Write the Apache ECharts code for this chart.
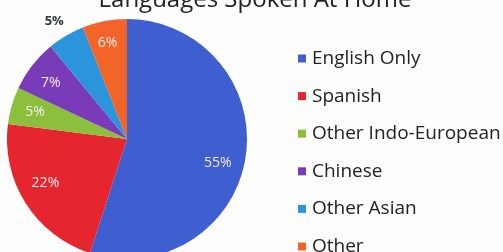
<!DOCTYPE html>
<html><head><meta charset="utf-8">
<script src="https://cdn.jsdelivr.net/npm/echarts@6/dist/echarts.min.js"></script>
<style>html,body{margin:0;padding:0;background:#fdfdfb}#c{width:503px;height:252px}</style>
</head><body><div id="c"></div>
<script>
var title = 'Languages Spoken At Home';
var categories = ['English Only','Spanish','Other Indo-European','Chinese','Other Asian','Other'];
var values = [55,22,5,7,5,6];
var colors = ['#3f5fd0','#e5262e','#8cc03c','#7a3bb8','#2a94dc','#f26428'];
var FONT = 'Open Sans';
var nudges = [[-7,9],[2,-9],[3,1],[2,5],[0,0],[-1,1]];
var pieData = categories.map(function(c,i){
  return {name:c, value:values[i], itemStyle:{color:colors[i]}};
});
var labelData = categories.map(function(c,i){
  var d = {name:c, value:values[i]};
  if (c === 'Other Asian') d.label = {show:false};
  return d;
});
var outsideData = categories.map(function(c,i){
  var d = {name:c, value:values[i], label:{show:false}};
  if (c === 'Other Asian') d.label = {show:true};
  return d;
});
var chart = echarts.init(document.getElementById('c'));
chart.setOption({
  backgroundColor:'#fdfdfb',
  animation:false,
  title:{text:title, left:250, textAlign:'center', top:-17, textStyle:{fontFamily:FONT, fontSize:24, fontWeight:'normal', color:'#222'}},
  legend:{orient:'vertical', left:293, top:44, height:300, itemWidth:8, itemHeight:8, itemGap:18.6, icon:'rect',
    data:categories, textStyle:{fontFamily:FONT, fontSize:19, color:'#222', padding:[0,0,0,1]}},
  series:[{
    type:'pie', center:[127,139], radius:[0,120], startAngle:90, clockwise:true,
    label:{show:false}, labelLine:{show:false}, data:pieData
  },{
    type:'pie', center:[127,139], radius:[72,120], startAngle:90, clockwise:true, silent:true,
    itemStyle:{color:'rgba(0,0,0,0)'}, legendHoverLink:false,
    label:{show:true, position:'inside', formatter:'{c}%', fontFamily:FONT, fontSize:14, color:'#f2ecf2'},
    labelLayout:function(p){ var n = nudges[p.dataIndex]; return {dx:n[0], dy:n[1]}; },
    labelLine:{show:false}, data:labelData
  },{
    type:'pie', center:[127,139], radius:[0,120], startAngle:90, clockwise:true, silent:true,
    itemStyle:{color:'rgba(0,0,0,0)'},
    label:{position:'outside', formatter:'{c}%', fontFamily:FONT, fontSize:13, fontWeight:'bold', color:'#2f3a40', distanceToLabelLine:0},
    labelLayout:{dx:8, dy:-1},
    labelLine:{show:false, length:16, length2:2}, data:outsideData
  }]
});
</script></body></html>
